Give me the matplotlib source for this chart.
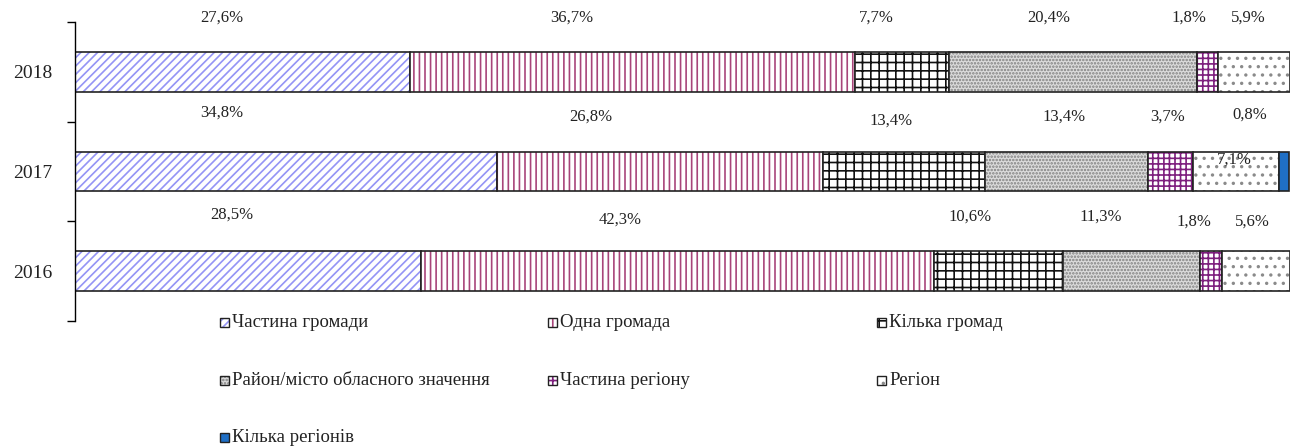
import numpy as np
import matplotlib
matplotlib.use("Agg")
import matplotlib.pyplot as plt
from matplotlib.patches import Rectangle

plt.rcParams['font.family'] = ['Liberation Serif', 'DejaVu Serif']
plt.rcParams['hatch.linewidth'] = 1.2

# ---------------- DATA ----------------
years = ['2016', '2017', '2018']
categories = ['Частина громади', 'Одна громада', 'Кілька громад',
              'Район/місто обласного значення', 'Частина регіону', 'Регіон',
              'Кілька регіонів']

chastyna_hromady = [28.5, 34.8, 27.6]
odna_hromada = [42.3, 26.8, 36.7]
kilka_hromad = [10.6, 13.4, 7.7]
raion_misto = [11.3, 13.4, 20.4]
chastyna_regionu = [1.8, 3.7, 1.8]
region = [5.6, 7.1, 5.9]
kilka_regioniv = [0.0, 0.8, 0.0]

series = [chastyna_hromady, odna_hromada, kilka_hromad, raion_misto,
          chastyna_regionu, region, kilka_regioniv]

# face colour, hatch, hatch colour for each category
styles = [
    ('white', '////', '#9494f5'),
    ('white', '|||', '#a8457a'),
    ('white', '++', '#111111'),
    ('#dcdcdc', '.....', '#808080'),
    ('white', '+++', '#7d1f7d'),
    ('white', '..', '#8a8a8a'),
    ('#1f6fc5', '', '#1f6fc5'),
]

# where each value label sits (x in %, y in category units), per category and year
label_x = [
    [12.9, 12.1, 12.1],
    [44.9, 42.5, 40.9],
    [73.7, 67.2, 66.0],
    [84.5, 81.5, 80.2],
    [92.2, 90.0, 91.8],
    [97.0, 95.5, 96.7],
    [None, 96.8, None],
]
label_y = [
    [0.57, 1.59, 2.54],
    [0.52, 1.55, 2.54],
    [0.55, 1.51, 2.54],
    [0.55, 1.55, 2.54],
    [0.50, 1.55, 2.54],
    [0.50, 1.12, 2.54],
    [None, 1.57, None],
]

W, H = 1296, 448

# ---------------- CHART ----------------
fig = plt.figure(figsize=(W / 100, H / 100), dpi=100)
ax = fig.add_axes([75 / W, 1 - 321 / H, 1215 / W, 299 / H])

y = np.arange(len(years))
left = np.zeros(len(years))
for vals, (fc, hatch, hc) in zip(series, styles):
    vals = np.array(vals)
    keep = vals > 0
    ax.barh(y[keep], vals[keep], left=left[keep], height=0.4, color=fc,
            hatch=hatch, edgecolor=hc, linewidth=0)
    ax.barh(y[keep], vals[keep], left=left[keep], height=0.4, fill=False,
            edgecolor='#222222', linewidth=1.2)
    left += vals

# value labels
for i, vals in enumerate(series):
    for j, v in enumerate(vals):
        if v <= 0:
            continue
        txt = f'{v:.1f}'.replace('.', ',') + '%'
        ax.text(label_x[i][j], label_y[i][j], txt, ha='center', va='center',
                fontsize=12, color='#222222', clip_on=False)

ax.set_xlim(0, 100.1)
ax.set_ylim(-0.5, 2.5)
ax.set_xticks([])
ax.set_yticks(y)
ax.set_yticklabels(years, fontsize=14, color='#222222')
ax.set_yticks(np.arange(-0.5, 3.0, 1.0), minor=True)
ax.tick_params(axis='y', which='major', length=0, pad=16)
ax.tick_params(axis='y', which='minor', length=6, width=1, direction='out')
for side in ['top', 'right', 'bottom']:
    ax.spines[side].set_visible(False)
ax.spines['left'].set_color('black')
ax.spines['left'].set_linewidth(1)

# ---------------- LEGEND ----------------
col_x = [220, 548, 877]
row_y = [322, 380, 437]
box = 9
for k, (name, (fc, hatch, hc)) in enumerate(zip(categories, styles)):
    px = col_x[k % 3]
    py = row_y[k // 3]
    x0, y0 = px / W, 1 - (py + box / 2) / H
    fig.add_artist(Rectangle((x0, y0), box / W, box / H, transform=fig.transFigure,
                             facecolor=fc, hatch=hatch, edgecolor=hc, linewidth=0))
    fig.add_artist(Rectangle((x0, y0), box / W, box / H, transform=fig.transFigure,
                             fill=False, edgecolor='#222222', linewidth=1))
    fig.text((px + box + 3) / W, 1 - py / H, name, ha='left', va='center',
             fontsize=13.5, color='#222222')

fig.savefig('out.png', dpi=100)
plt.close(fig)
